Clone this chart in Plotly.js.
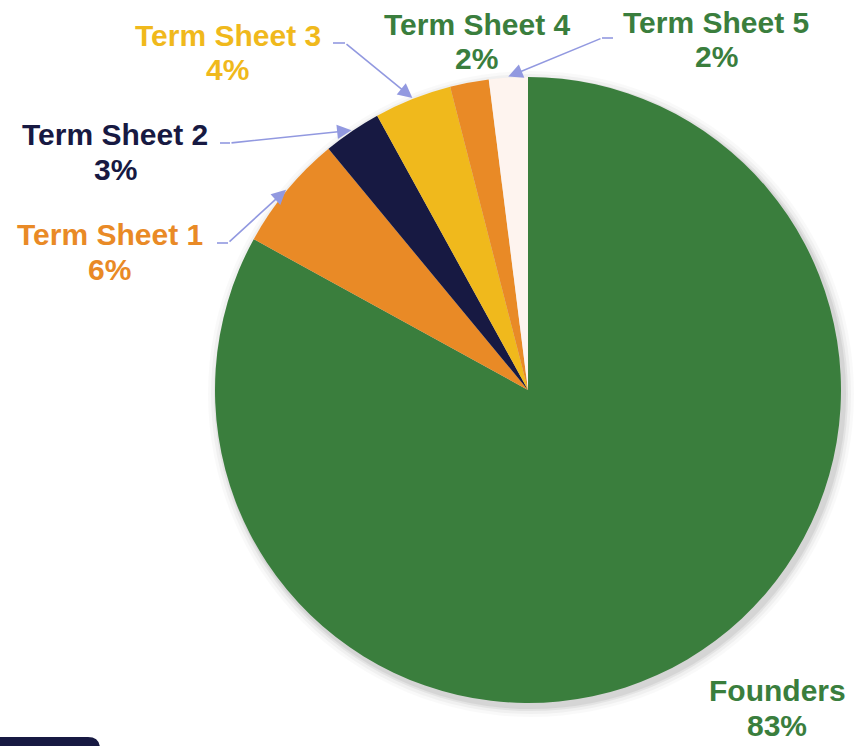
<!DOCTYPE html>
<html>
<head>
<meta charset="utf-8">
<script src="https://cdn.plot.ly/plotly-3.0.1.min.js"></script>
<style>
  html, body { margin: 0; padding: 0; background: #ffffff; }
  #chart { width: 856px; height: 746px; }
</style>
</head>
<body>
<div id="chart"></div>
<script>
// data
var labels = ['Founders', 'Term Sheet 1', 'Term Sheet 2', 'Term Sheet 3', 'Term Sheet 4', 'Term Sheet 5'];
var shares = [83, 6, 3, 4, 2, 2];
var sliceColors = ['#3a7e3d', '#e98a26', '#171942', '#f0b91c', '#e98a26', '#fef4ef'];
var textColors = ['#3a7e3d', '#e98a26', '#171942', '#f0b91c', '#3a7e3d', '#3a7e3d'];

// page geometry (pixels)
var W = 856, H = 746;
var cx = 528, cy = 390, R = 313;
function fx(x) { return x / W; }
function fy(y) { return 1 - y / H; }

// label placement: centre x and first line y, and the elbow of the leader line (null = no leader)
var labelPos = [[777, 690], [110, 234], [115, 134], [228, 35], [477, 24], [716, 22]];
var lineGap = 35;
var elbows = [null, [217, 228, 243], [220, 230, 143], [333, 345, 43], null, [613, 602, 38]];

var total = shares.reduce(function (a, b) { return a + b; }, 0);

var annotations = [];
var shapes = [];

// soft shadow behind the pie
[[10, 0.025], [7, 0.035], [4, 0.05], [2, 0.06]].forEach(function (s) {
  var r = R + s[0];
  shapes.push({
    type: 'circle', xref: 'paper', yref: 'paper', layer: 'below',
    x0: fx(cx + 3 - r), x1: fx(cx + 3 + r), y0: fy(cy + 4 + r), y1: fy(cy + 4 - r),
    fillcolor: 'rgba(0,0,0,' + s[1] + ')', line: { width: 0 }
  });
});

function textNote(x, y, txt, color) {
  return {
    xref: 'paper', yref: 'paper',
    x: fx(x), y: fy(y),
    xanchor: 'center', yanchor: 'middle', align: 'center',
    showarrow: false,
    text: '<b>' + txt + '</b>',
    font: { family: 'Liberation Sans, Arial, sans-serif', size: 30, color: color }
  };
}

var cum = 0;
for (var i = 0; i < labels.length; i++) {
  var mid = (cum + shares[i] / 2) / total * 2 * Math.PI; // clockwise from 12 o'clock
  cum += shares[i];

  annotations.push(textNote(labelPos[i][0], labelPos[i][1], labels[i], textColors[i]));
  annotations.push(textNote(labelPos[i][0], labelPos[i][1] + lineGap, shares[i] + '%', textColors[i]));

  if (elbows[i]) {
    var tx = cx + (R + 1) * Math.sin(mid);
    var ty = cy - (R + 1) * Math.cos(mid);
    var e = elbows[i];
    shapes.push({
      type: 'line', xref: 'paper', yref: 'paper',
      x0: fx(e[0]), x1: fx(e[1]), y0: fy(e[2]), y1: fy(e[2]),
      line: { color: '#9299e0', width: 1.6 }
    });
    annotations.push({
      xref: 'paper', yref: 'paper',
      x: fx(tx), y: fy(ty),
      ax: e[1] - tx, ay: e[2] - ty,
      text: '', showarrow: true,
      arrowhead: 2, arrowsize: 1.8, arrowwidth: 1.6,
      arrowcolor: '#9299e0', standoff: 0, startstandoff: 0
    });
  }
}

// dark tab in the bottom-left corner
shapes.push({
  type: 'path', xref: 'paper', yref: 'paper', layer: 'above',
  path: 'M ' + fx(0) + ' ' + fy(H + 2) + ' L ' + fx(0) + ' ' + fy(737) +
        ' L ' + fx(88) + ' ' + fy(737) + ' Q ' + fx(100) + ' ' + fy(737) + ' ' + fx(100) + ' ' + fy(749) +
        ' L ' + fx(100) + ' ' + fy(H + 2) + ' Z',
  fillcolor: '#171942', line: { width: 0 }
});

var trace = {
  type: 'pie',
  labels: labels,
  values: shares,
  sort: false,
  direction: 'clockwise',
  rotation: 0,
  textinfo: 'none',
  hoverinfo: 'label+percent',
  marker: { colors: sliceColors, line: { width: 0 } },
  domain: { x: [fx(cx - R), fx(cx + R)], y: [fy(cy + R), fy(cy - R)] },
  showlegend: false
};

var layout = {
  width: W,
  height: H,
  margin: { l: 0, r: 0, t: 0, b: 0 },
  paper_bgcolor: '#ffffff',
  showlegend: false,
  annotations: annotations,
  shapes: shapes
};

Plotly.newPlot('chart', [trace], layout, { displayModeBar: false, staticPlot: true });
</script>
</body>
</html>
